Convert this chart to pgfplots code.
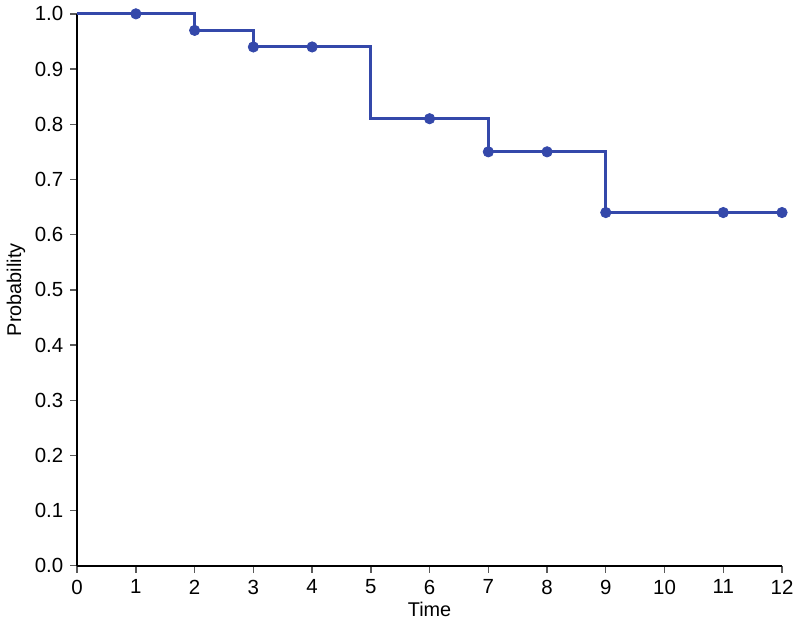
\documentclass[border=0pt]{standalone}
\usepackage{fontspec}
\setmainfont{Liberation Sans}
\usepackage{pgfplots}
\pgfplotsset{compat=1.18}

\definecolor{kmblue}{RGB}{52,72,170}

\begin{document}
\begin{tikzpicture}
\begin{axis}[
    scale only axis,
    width=355pt,
    height=278pt,
    xmin=0, xmax=12,
    ymin=0, ymax=1,
    axis x line=bottom,
    axis y line=left,
    axis line style={-, line width=0.9pt, black},
    xtick={0,1,...,12},
    ytick={0,0.1,...,1.0},
    yticklabel style={/pgf/number format/fixed, /pgf/number format/fixed zerofill, /pgf/number format/precision=1},
    tick style={gray!70!black, line width=0.7pt},
    tick align=outside,
    major tick length=3.5pt,
    /pgf/number format/assume math mode=true,
    ticklabel style={font=\fontsize{10.3}{12}\selectfont},
    label style={font=\fontsize{10}{12}\selectfont},
    xlabel={Time},
    ylabel={Probability},
    xlabel style={yshift=3pt},
    ylabel style={yshift=-2pt},
    clip=false,
]
\addplot[const plot, color=kmblue, line width=1.5pt, mark=none] coordinates {
    (0,1.00) (2,0.97) (3,0.94) (5,0.81) (7,0.75) (9,0.64) (12,0.64)
};
\addplot[only marks, color=kmblue, mark=*, mark size=2.6pt] coordinates {
    (1,1.00) (2,0.97) (3,0.94) (4,0.94) (6,0.81) (7,0.75) (8,0.75) (9,0.64) (11,0.64) (12,0.64)
};
\end{axis}
\end{tikzpicture}
\end{document}
